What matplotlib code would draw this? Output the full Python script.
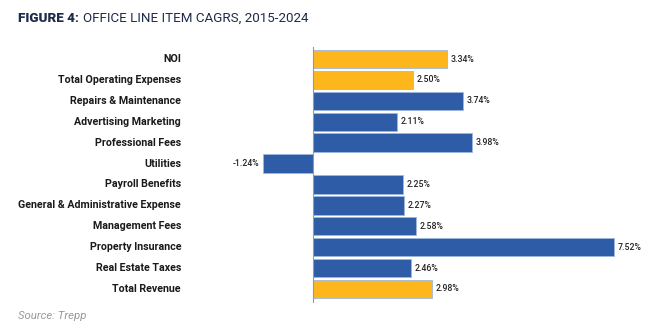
import matplotlib.pyplot as plt

categories = ['NOI', 'Total Operating Expenses', 'Repairs & Maintenance',
              'Advertising Marketing', 'Professional Fees', 'Utilities',
              'Payroll Benefits', 'General & Administrative Expense',
              'Management Fees', 'Property Insurance', 'Real Estate Taxes',
              'Total Revenue']
cagr = [3.34, 2.50, 3.74, 2.11, 3.98, -1.24, 2.25, 2.27, 2.58, 7.52, 2.46, 2.98]
highlight = ['NOI', 'Total Operating Expenses', 'Total Revenue']

gold = '#FDB71C'
blue = '#2E5CA6'
navy = '#1E2B4A'

fig = plt.figure(figsize=(6.52, 3.32), dpi=100)
ax = fig.add_axes([250 / 652, 1 - 303 / 332, 390 / 652, 256 / 332])

colors = [gold if c in highlight else blue for c in categories]
pos = list(range(len(categories)))
ax.barh(pos, cagr, height=0.88, color=colors, edgecolor='#9DB7E0', linewidth=0.6)
ax.axvline(0, color='#999999', linewidth=0.8)

for y, v in zip(pos, cagr):
    if v >= 0:
        ax.text(v + 0.09, y, f'{v:.2f}%', va='center', ha='left', fontsize=6.3,
                family='Roboto', fontweight='medium', color='#222222')
    else:
        ax.text(v - 0.09, y, f'{v:.2f}%', va='center', ha='right', fontsize=6.3,
                family='Roboto', fontweight='medium', color='#222222')

ax.set_xlim(-1.575, 8.175)
ax.set_ylim(11.67, -0.574)
ax.axis('off')

for y, c in zip(pos, categories):
    ax.text(-3.3, y, c, ha='right', va='center', fontsize=7.7, family='Roboto',
            fontweight='bold', color='#1a1a1a')

fig.text(18 / 652, 1 - 18 / 332, 'FIGURE 4:', fontsize=9.6, family='Roboto',
         fontweight='black', color=navy, va='center', ha='left')
fig.text(83 / 652, 1 - 18 / 332, 'OFFICE LINE ITEM CAGRS, 2015-2024', fontsize=9.6,
         family='Roboto', color=navy, va='center', ha='left')
fig.text(18 / 652, 1 - 316 / 332, 'Source: Trepp', fontsize=8.2, family='Roboto',
         style='italic', color='#999999', va='center', ha='left')

fig.savefig('out.png', dpi=100)
